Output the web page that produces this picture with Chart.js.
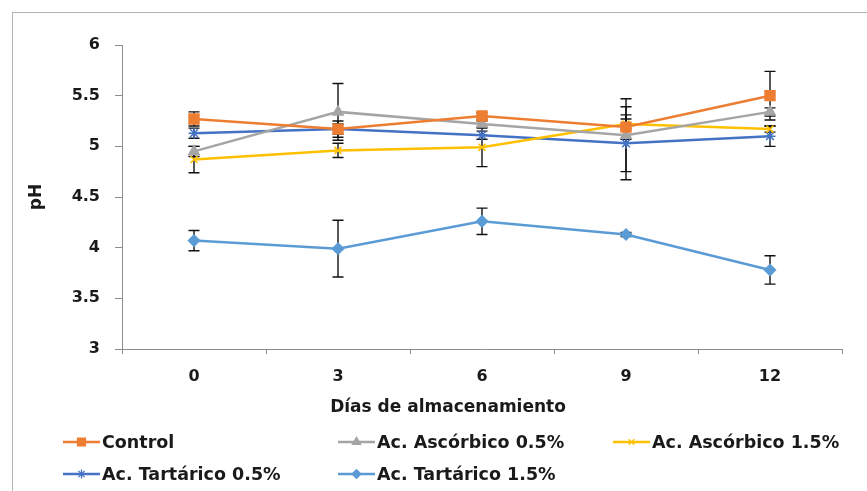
<!DOCTYPE html>
<html>
<head>
<meta charset="utf-8">
<title>pH durante el almacenamiento</title>
<script src="https://cdn.jsdelivr.net/npm/chart.js"></script>
<style>
  html, body { margin: 0; padding: 0; background: #fff; }
  #wrap { position: relative; width: 867px; height: 491px; overflow: hidden; }
  #frame { position: absolute; left: 12px; top: 12px; width: 900px; height: 520px;
           border-left: 1px solid #b4b4b4; border-top: 1px solid #b4b4b4; }
  canvas { position: absolute; left: 0; top: 0; }
</style>
</head>
<body>
<div id="wrap">
  <div id="frame"></div>
  <canvas id="phChart" width="867" height="491"></canvas>
</div>
<script>
// Data
const days = ['0', '3', '6', '9', '12'];
const yTicks = [3, 3.5, 4, 4.5, 5, 5.5, 6];

const control      = [5.27, 5.17, 5.30, 5.19, 5.50];
const controlErr   = [0.07, 0.08, 0.03, 0.12, 0.24];
const ascorbico05    = [4.95, 5.34, 5.22, 5.11, 5.34];
const ascorbico05Err = [0.05, 0.28, 0.03, 0.36, 0.04];
const ascorbico15    = [4.87, 4.96, 4.99, 5.22, 5.17];
const ascorbico15Err = [0.13, 0.07, 0.19, 0.05, 0.03];
const tartarico05    = [5.13, 5.17, 5.11, 5.03, 5.10];
const tartarico05Err = [0.05, 0.05, 0.04, 0.36, 0.10];
const tartarico15    = [4.07, 3.99, 4.26, 4.13, 3.78];
const tartarico15Err = [0.10, 0.28, 0.13, 0.02, 0.14];

const FONT = "'DejaVu Sans', sans-serif";
const TEXT = '#1a1a1a';

const makeSet = (label, data, err, color, style, radius) => ({
    label: label,
    data: data,
    errors: err,
    borderColor: color,
    backgroundColor: color,
    borderWidth: 2.5,
    tension: 0,
    pointStyle: style,
    pointRadius: radius,
    pointHoverRadius: radius,
    pointBackgroundColor: color,
    pointBorderColor: color,
    pointBorderWidth: 1.5
});

// error bars, drawn under the lines/markers through the y scale
const errorBars = {
    id: 'errorBars',
    beforeDatasetsDraw(chart) {
        const ctx = chart.ctx;
        const y = chart.scales.y;
        ctx.save();
        ctx.strokeStyle = '#111';
        ctx.lineWidth = 1.4;
        chart.data.datasets.forEach((ds, i) => {
            const meta = chart.getDatasetMeta(i);
            meta.data.forEach((pt, j) => {
                const e = ds.errors[j];
                const top = y.getPixelForValue(ds.data[j] + e);
                const bot = y.getPixelForValue(ds.data[j] - e);
                ctx.beginPath();
                ctx.moveTo(pt.x, top); ctx.lineTo(pt.x, bot);
                ctx.moveTo(pt.x - 5.5, top); ctx.lineTo(pt.x + 5.5, top);
                ctx.moveTo(pt.x - 5.5, bot); ctx.lineTo(pt.x + 5.5, bot);
                ctx.stroke();
            });
        });
        ctx.restore();
    }
};

// x title and the two-row legend laid out like the original
const legendCols = [63, 338, 613];
const legendRows = [442, 474];
const bottomText = {
    id: 'bottomText',
    afterDraw(chart) {
        const ctx = chart.ctx;
        ctx.save();
        ctx.fillStyle = TEXT;
        ctx.textBaseline = 'middle';
        ctx.font = 'bold 17px ' + FONT;
        ctx.textAlign = 'center';
        ctx.fillText('Días de almacenamiento', 448, 408);

        ctx.textAlign = 'left';
        ctx.font = 'bold 17.5px ' + FONT;
        chart.data.datasets.forEach((ds, i) => {
            const x0 = legendCols[i % 3];
            const yy = legendRows[Math.floor(i / 3)];
            ctx.strokeStyle = ds.borderColor;
            ctx.lineWidth = 2.5;
            ctx.beginPath();
            ctx.moveTo(x0, yy); ctx.lineTo(x0 + 37, yy);
            ctx.stroke();
            ctx.fillStyle = ds.borderColor;
            ctx.lineWidth = 1.3;
            Chart.helpers.drawPoint(ctx, {
                pointStyle: ds.pointStyle,
                radius: ds.pointRadius * 0.8,
                borderWidth: 1.3,
                rotation: 0
            }, x0 + 18.5, yy);
            ctx.fillStyle = TEXT;
            ctx.fillText(ds.label, x0 + 39, yy + 1);
        });
        ctx.restore();
    }
};

const ctx = document.getElementById('phChart').getContext('2d');
new Chart(ctx, {
    type: 'line',
    data: {
        labels: days,
        datasets: [
            makeSet('Control', control, controlErr, '#ED7D31', 'rect', 7),
            makeSet('Ac. Ascórbico 0.5%', ascorbico05, ascorbico05Err, '#A5A5A5', 'triangle', 6),
            makeSet('Ac. Ascórbico 1.5%', ascorbico15, ascorbico15Err, '#FFC000', 'crossRot', 5),
            makeSet('Ac. Tartárico 0.5%', tartarico05, tartarico05Err, '#4472C4', 'star', 5.5),
            makeSet('Ac. Tartárico 1.5%', tartarico15, tartarico15Err, '#5B9BD5', 'rectRot', 5.5)
        ]
    },
    options: {
        responsive: false,
        animation: false,
        layout: { padding: { left: 0, right: 25, top: 45, bottom: 102 } },
        plugins: {
            legend: { display: false },
            tooltip: { enabled: false }
        },
        scales: {
            x: {
                offset: true,
                grid: { offset: true, drawOnChartArea: false, drawTicks: true, tickLength: 5, color: '#8c8c8c' },
                border: { color: '#8c8c8c', width: 1 },
                ticks: { color: TEXT, padding: 13, font: { family: FONT, size: 16, weight: 'bold' } },
                afterFit(scale) { scale.height = 40; }
            },
            y: {
                min: 3,
                max: 6,
                afterBuildTicks(scale) { scale.ticks = yTicks.map(v => ({ value: v })); },
                grid: { drawOnChartArea: false, drawTicks: true, tickLength: 7, color: '#8c8c8c' },
                border: { color: '#8c8c8c', width: 1 },
                ticks: {
                    color: TEXT,
                    padding: 15,
                    font: { family: FONT, size: 16, weight: 'bold' },
                    callback: v => String(v)
                },
                title: {
                    display: true,
                    text: 'pH',
                    color: TEXT,
                    padding: { top: 26, bottom: 0 },
                    font: { family: FONT, size: 17, weight: 'bold' }
                },
                afterFit(scale) { scale.width = 122; }
            }
        }
    },
    plugins: [errorBars, bottomText]
});
</script>
</body>
</html>
